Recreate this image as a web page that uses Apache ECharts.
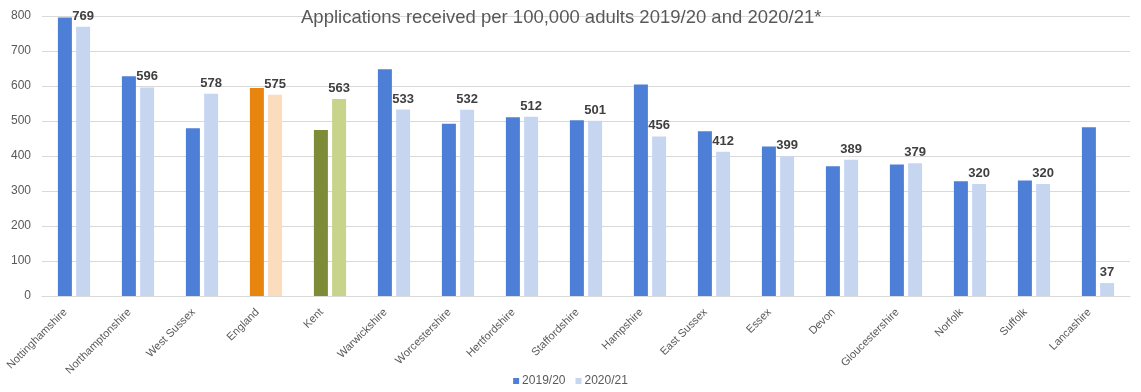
<!DOCTYPE html>
<html>
<head>
<meta charset="utf-8">
<script src="https://cdn.jsdelivr.net/npm/echarts@6/dist/echarts.min.js"></script>
<style>
  html, body { margin: 0; padding: 0; background: #fff; }
  #chart { width: 1141px; height: 392px; }
</style>
</head>
<body>
<div id="chart"></div>
<script>
var categories = ['Nottinghamshire', 'Northamptonshire', 'West Sussex', 'England', 'Kent',
    'Warwickshire', 'Worcestershire', 'Hertfordshire', 'Staffordshire', 'Hampshire',
    'East Sussex', 'Essex', 'Devon', 'Gloucestershire', 'Norfolk', 'Suffolk', 'Lancashire'];
var values2019 = [796, 628, 479, 594, 474, 648, 492, 511, 502, 604, 471, 427, 371, 376, 328, 330, 482];
var values2020 = [769, 596, 578, 575, 563, 533, 532, 512, 501, 456, 412, 399, 389, 379, 320, 320, 37];
var seriesNames = ['2019/20', '2020/21'];

// highlighted categories get their own pair of colours
var highlight = {
    'England': ['#e8850f', '#fbdcbc'],
    'Kent': ['#7e8c37', '#c8d48c']
};
var baseColors = ['#4d7fd6', '#c6d6f1'];
var textColor = '#595959';

function buildData(values, s) {
    return values.map(function (v, i) {
        var h = highlight[categories[i]];
        if (h) return { value: v, itemStyle: { color: h[s] } };
        return v;
    });
}

var chart = echarts.init(document.getElementById('chart'));
chart.setOption({
    animation: false,
    textStyle: { fontFamily: 'Liberation Sans, Arial, sans-serif' },
    title: {
        text: 'Applications received per 100,000 adults 2019/20 and 2020/21*',
        left: 301,
        top: 8,
        padding: 0,
        textStyle: { fontSize: 18.5, fontWeight: 'normal', color: textColor }
    },
    legend: {
        data: seriesNames,
        bottom: 0,
        left: 'center',
        itemWidth: 6,
        itemHeight: 6,
        itemGap: 10,
        icon: 'rect',
        textStyle: { fontSize: 12, color: textColor, padding: [0, 0, 0, -2] }
    },
    grid: { left: 42, right: 11, top: 16, bottom: 96 },
    xAxis: {
        type: 'category',
        data: categories,
        axisTick: { show: false },
        axisLine: { lineStyle: { color: '#d9d9d9' } },
        axisLabel: {
            rotate: 45, fontSize: 11, color: textColor, interval: 0, margin: 6,
            padding: [0, 12, 0, 0]
        }
    },
    yAxis: {
        type: 'value',
        min: 0,
        max: 800,
        interval: 100,
        axisLine: { show: false },
        axisTick: { show: false },
        splitLine: { lineStyle: { color: '#d9d9d9' } },
        axisLabel: { fontSize: 12, color: textColor, margin: 11 }
    },
    series: [
        {
            name: seriesNames[0],
            type: 'bar',
            barWidth: 14,
            barGap: '30%',
            itemStyle: { color: baseColors[0] },
            data: buildData(values2019, 0)
        },
        {
            name: seriesNames[1],
            type: 'bar',
            barWidth: 14,
            itemStyle: { color: baseColors[1] },
            label: {
                show: true,
                position: 'top',
                distance: 4,
                fontSize: 13,
                fontWeight: 'bold',
                color: '#404040'
            },
            data: buildData(values2020, 1)
        }
    ]
});
</script>
</body>
</html>
